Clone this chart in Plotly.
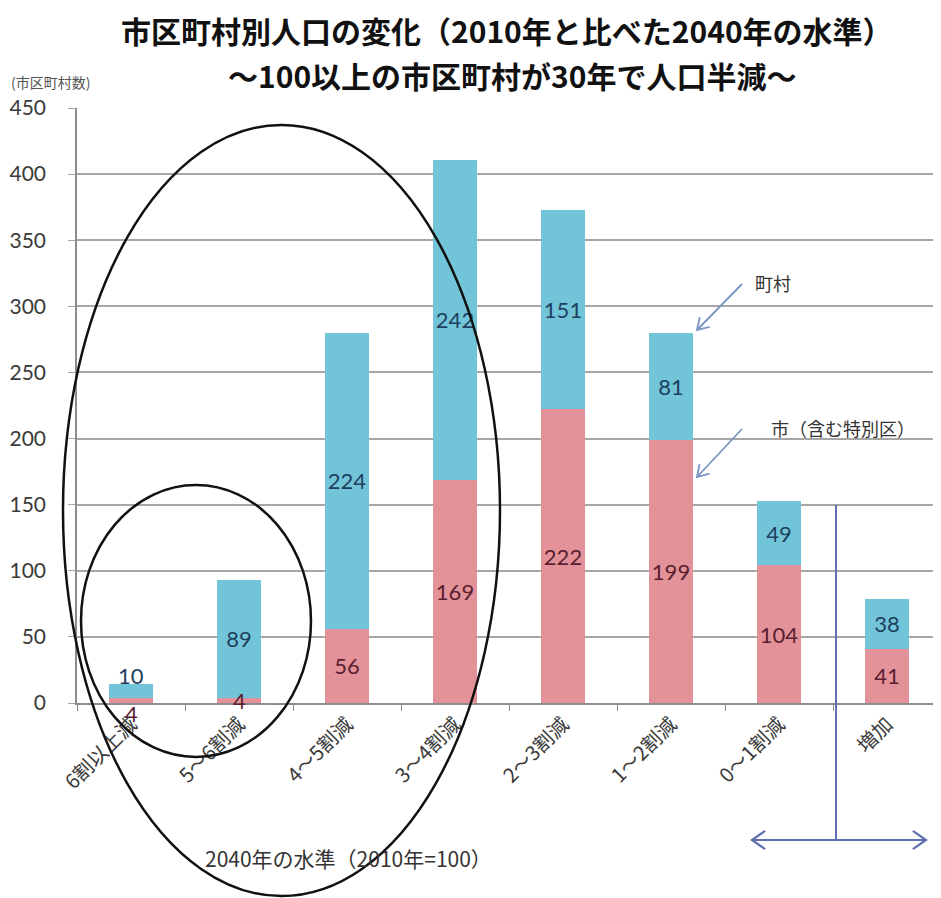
import math
import plotly.graph_objects as go

# ---- data ----
categories = ["6割以上減", "5～6割減", "4～5割減", "3～4割減", "2～3割減", "1～2割減", "0～1割減", "増加"]
city_counts = [4, 4, 56, 169, 222, 199, 104, 41]      # 市(含む特別区)
town_counts = [10, 89, 224, 242, 151, 81, 49, 38]     # 町村
y_ticks = [0, 50, 100, 150, 200, 250, 300, 350, 400, 450]

OFF = 8  # default page margin of the html body
W, H = 941 - OFF, 898 - OFF
ML, MR, MT = 77 - OFF, 0, 108 - OFF
PH = 595
MB = H - MT - PH
PW = W - ML - MR


def px(xp):
    """screenshot x pixel -> paper x"""
    return (xp - OFF - ML) / PW


def py(yp):
    """screenshot y pixel -> paper y"""
    return (MT + PH - (yp - OFF)) / PH


PINK = "#E3929A"
TEAL = "#72C5D8"
PINK_TXT = "#5A2030"
TEAL_TXT = "#1E3F5E"
NUM_FONT = "Lato, Noto Sans CJK JP, sans-serif"
JP_FONT = "Noto Sans CJK JP, sans-serif"
NUM_SIZE = 22

SMALL = 15
city_text = ["" if v < SMALL else str(v) for v in city_counts]
town_text = ["" if i == 0 else str(v) for i, v in enumerate(town_counts)]

fig = go.Figure()
fig.add_trace(go.Bar(
    x=categories, y=city_counts, name="市(含む特別区)",
    marker=dict(color=PINK, line=dict(width=0)),
    text=city_text, textposition="inside", insidetextanchor="middle", textangle=0,
    textfont=dict(family=NUM_FONT, size=NUM_SIZE, color=PINK_TXT),
))
fig.add_trace(go.Bar(
    x=categories, y=town_counts, name="町村",
    marker=dict(color=TEAL, line=dict(width=0)),
    text=town_text, textposition="inside", insidetextanchor="middle", textangle=0,
    textfont=dict(family=NUM_FONT, size=NUM_SIZE, color=TEAL_TXT),
))

annotations = []
# labels for the tiny segments
annotations.append(dict(x=categories[0], y=city_counts[0] + town_counts[0], xref="x", yref="y",
                        text=str(town_counts[0]), showarrow=False, yshift=9,
                        xanchor="center", yanchor="middle",
                        font=dict(family=NUM_FONT, size=NUM_SIZE, color=TEAL_TXT)))
annotations.append(dict(x=categories[0], y=0, xref="x", yref="y",
                        text=str(city_counts[0]), showarrow=False, yshift=-10,
                        xanchor="center", yanchor="middle",
                        font=dict(family=NUM_FONT, size=NUM_SIZE, color=PINK_TXT)))
for i, v in enumerate(city_counts):
    if i > 0 and v < SMALL:
        annotations.append(dict(x=categories[i], y=v / 2, xref="x", yref="y",
                                text=str(v), showarrow=False, xanchor="center", yanchor="middle",
                                font=dict(family=NUM_FONT, size=NUM_SIZE, color=PINK_TXT)))


def label(xp, yp, text, size, color="#333333", family=JP_FONT, xanchor="center"):
    return dict(x=px(xp), y=py(yp), xref="paper", yref="paper", showarrow=False,
                xanchor=xanchor, yanchor="middle", text=text,
                font=dict(family=family, size=size, color=color))


# titles
annotations.append(label(507, 30, "<b>市区町村別人口の変化（2010年と比べた2040年の水準）</b>", 30, "#111111"))
annotations.append(label(512, 75, "<b>～100以上の市区町村が30年で人口半減～</b>", 30, "#111111"))
annotations.append(label(9, 82, "(市区町村数)", 14, "#555555", xanchor="left"))
annotations.append(label(348, 858, "2040年の水準（2010年=100）", 21, "#333333"))

# series callouts
annotations.append(label(773, 283, "町村", 18))
annotations.append(label(843, 428, "市（含む特別区）", 18))


def arrow_path(tx, ty, hx, hy, head=13, spread=32):
    """open chevron arrow from tail (tx,ty) to head (hx,hy), screenshot pixels -> paper path"""
    ang = math.atan2(ty - hy, tx - hx)
    pts = []
    for s in (-1, 1):
        a = ang + s * math.radians(spread)
        pts.append((hx + head * math.cos(a), hy + head * math.sin(a)))
    p = lambda x, y: f"{px(x):.5f},{py(y):.5f}"
    return (f"M{p(tx, ty)} L{p(hx, hy)} M{p(*pts[0])} L{p(hx, hy)} L{p(*pts[1])}")


ARROW_C = "#7C93C6"
BLUE = "#5F70B0"
shapes = []
for (tx, ty, hx, hy) in [(742, 284, 697, 330), (742, 429, 697, 477)]:
    shapes.append(dict(type="path", xref="paper", yref="paper", path=arrow_path(tx, ty, hx, hy),
                       line=dict(color=ARROW_C, width=1.8)))
for hx in (752, 926):
    shapes.append(dict(type="path", xref="paper", yref="paper", path=arrow_path(836, 840, hx, 840, head=16, spread=35),
                       line=dict(color=BLUE, width=2.2)))

shapes += [
    dict(type="line", xref="paper", yref="paper", x0=px(836), x1=px(836), y0=py(505), y1=py(840),
         line=dict(color=BLUE, width=2)),
    dict(type="circle", xref="paper", yref="paper", x0=px(63), x1=px(500), y0=py(896), y1=py(125),
         line=dict(color="#111111", width=2.5)),
    dict(type="circle", xref="paper", yref="paper", x0=px(81), x1=px(311), y0=py(757), y1=py(485),
         line=dict(color="#111111", width=2.5)),
]

fig.update_layout(
    width=W, height=H,
    margin=dict(l=ML, r=MR, t=MT, b=MB, autoexpand=False),
    paper_bgcolor="white", plot_bgcolor="white",
    barmode="stack", bargap=0.59,
    showlegend=False,
    uniformtext=dict(minsize=NUM_SIZE, mode="show"),
    annotations=annotations, shapes=shapes,
    font=dict(family=JP_FONT),
)
fig.update_xaxes(
    type="category", tickangle=-45,
    tickfont=dict(family=JP_FONT, size=20, color="#3A3A3A"),
    showline=True, linecolor="#8C8C8C", linewidth=1.5,
    ticks="outside", tickson="boundaries", ticklen=6, tickcolor="#8C8C8C",
    showgrid=False,
)
fig.update_yaxes(
    range=[0, 450], tickvals=y_ticks,
    tickfont=dict(family=NUM_FONT, size=21, color="#3A3A3A"),
    showgrid=True, gridcolor="#A6A6A6", gridwidth=1.5,
    showline=True, linecolor="#8C8C8C", linewidth=1.5,
    ticks="outside", ticklen=7, tickcolor="#A6A6A6",
    ticklabelstandoff=18, zeroline=False,
)

fig.write_html("out.html")
